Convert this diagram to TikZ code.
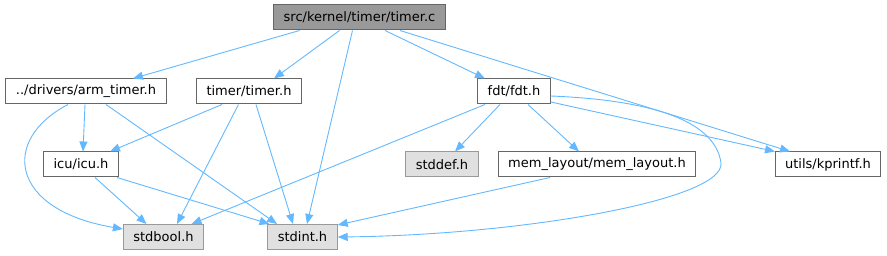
\documentclass[tikz,border=0pt]{standalone}
\usepackage{fontspec}
\setmainfont{DejaVu Sans}
\usetikzlibrary{arrows.meta}
\definecolor{edgeblue}{HTML}{63B8FF}
\definecolor{rootgray}{HTML}{999999}
\definecolor{sysgray}{HTML}{E0E0E0}
\begin{document}
\begin{tikzpicture}[x=1pt,y=-1pt,
  file/.style={draw=black!60,fill=white,line width=1pt,minimum height=25pt,
    inner xsep=10pt,inner ysep=0pt,font=\fontsize{13}{15}\selectfont},
  sysfile/.style={file,draw=rootgray,fill=sysgray},
  dep/.style={draw=edgeblue,line width=0.9pt,-{Triangle[length=10pt,width=8pt]}}]
\useasboundingbox (0,0) rectangle (887,256);
\node[file,fill=rootgray] (timerc) at (359.5,17.5) {src/kernel/timer/timer.c};
\node[file] (armtimer) at (86,91.5) {../drivers/arm\_timer.h};
\node[file] (timerh) at (249,91.5) {timer/timer.h};
\node[file] (fdt) at (514,91.5) {fdt/fdt.h};
\node[file] (icu) at (81,164.5) {icu/icu.h};
\node[sysfile] (stddef) at (442,164.5) {stddef.h};
\node[file] (memlayout) at (597,164.5) {mem\_layout/mem\_layout.h};
\node[file] (kprintf) at (828,164.5) {utils/kprintf.h};
\node[sysfile] (stdbool) at (163.5,237) {stdbool.h};
\node[sysfile] (stdint) at (302.5,237) {stdint.h};
\draw[dep] ([xshift=-60]timerc.south) -- ([xshift=47]armtimer.north);
\draw[dep] ([xshift=-20]timerc.south) -- ([xshift=25]timerh.north);
\draw[dep] ([xshift=-7]timerc.south) -- ([xshift=4.5]stdint.north);
\draw[dep] ([xshift=25.5]timerc.south) -- ([xshift=-29]fdt.north);
\draw[dep] ([xshift=40.5]timerc.south) -- ([xshift=-38]kprintf.north);
\draw[dep] ([xshift=-1]armtimer.south) -- ([xshift=2]icu.north);
\draw[dep] ([xshift=-18]armtimer.south) .. controls (0,140) and (10,210) .. ([yshift=8]stdbool.west);
\draw[dep] ([xshift=20]armtimer.south) -- ([xshift=-25.5]stdint.north);
\draw[dep] ([xshift=-27]timerh.south) -- ([xshift=29]icu.north);
\draw[dep] ([xshift=-10.5]timerh.south) -- ([xshift=13.5]stdbool.north);
\draw[dep] ([xshift=7]timerh.south) -- ([xshift=-9.5]stdint.north);
\draw[dep] ([xshift=14]icu.south) -- ([xshift=-17]stdbool.north);
\draw[dep] ([xshift=36]icu.south) -- ([xshift=-33]stdint.north);
\draw[dep] ([xshift=-29]fdt.south) -- ([xshift=28]stdbool.north);
\draw[dep] ([xshift=-14]fdt.south) -- ([xshift=13]stddef.north);
\draw[dep] ([xshift=14]fdt.south) -- ([xshift=-18]memlayout.north);
\draw[dep] ([yshift=-10.5]fdt.east) -- ([xshift=-53]kprintf.north);
\draw[dep] ([yshift=-4.5]fdt.east) .. controls (650,100) and (715,120) .. (721,163)
  .. controls (725,200) and (520,235) .. (stdint.east);
\draw[dep] ([xshift=-47]memlayout.south) -- ([yshift=12]stdint.east);
\end{tikzpicture}
\end{document}
